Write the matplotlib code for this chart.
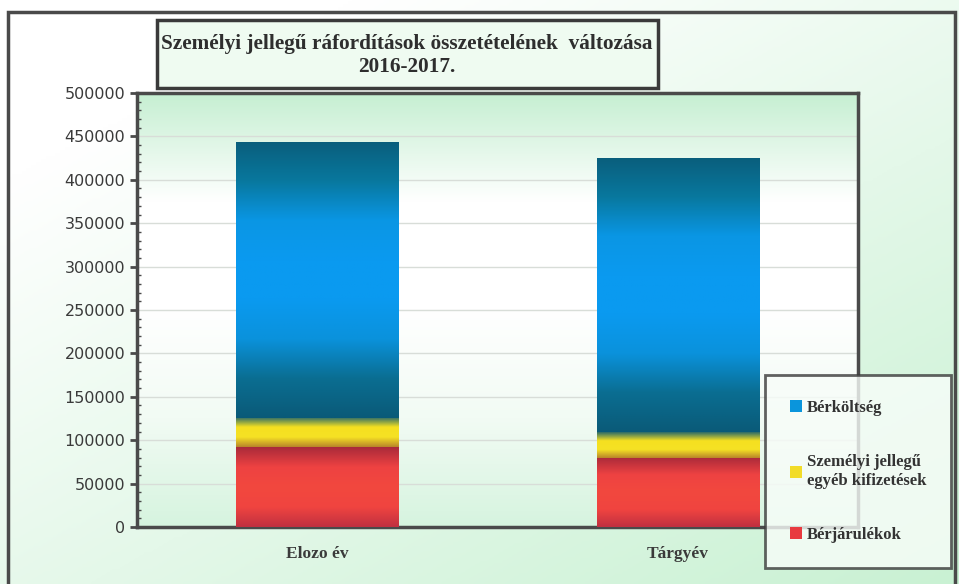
import numpy as np
import matplotlib.pyplot as plt
from matplotlib.patches import Rectangle
from matplotlib.colors import LinearSegmentedColormap

# data
categories = ["Elozo év", "Tárgyév"]
berjarulekok = [92000, 80000]
egyeb_kifizetesek = [34000, 29000]
berkoltseg = [318000, 316000]
series_labels = ["Bérköltség", "Személyi jellegű\negyéb kifizetések", "Bérjárulékok"]
yticks = [0, 50000, 100000, 150000, 200000, 250000, 300000, 350000, 400000, 450000, 500000]

title = "Személyi jellegű ráfordítások összetételének  változása\n2016-2017."

W, H = 959, 584
fig = plt.figure(figsize=(W / 100, H / 100), dpi=100)

# figure background: white top-left, light green bottom-right
bg = fig.add_axes([0, 0, 1, 1], zorder=-10)
gx, gy = np.meshgrid(np.linspace(0, 1, 200), np.linspace(0, 1, 200))
bgval = np.clip(0.55 * gx + 0.65 * gy - 0.2, 0, 1)
bgcmap = LinearSegmentedColormap.from_list("bg", ["#ffffff", "#c9f1d3"])
bg.imshow(bgval, cmap=bgcmap, extent=[0, 1, 0, 1], aspect="auto", origin="upper")
bg.set_axis_off()

# outer frame
fig.patches.append(Rectangle((8 / W, -0.02), (955 - 8) / W, 1 - 12 / H + 0.02,
                             transform=fig.transFigure, fill=False,
                             edgecolor="#4a4a4a", linewidth=2.5, zorder=1))

ax = fig.add_axes([137 / W, (H - 527) / H, (858 - 137) / W, (527 - 93) / H])
ax.set_zorder(1)

# plot area gradient (green at top, white in middle, pale green at bottom)
prof = np.linspace(0, 1, 256)[:, None]
areacmap = LinearSegmentedColormap.from_list(
    "area", ["#c6efd2", "#ffffff", "#ffffff", "#f2fbf4", "#d6f4df"])
ax.imshow(prof, cmap=areacmap, extent=[0, 1, 0, 1], transform=ax.transAxes,
          aspect="auto", origin="upper", zorder=0)

x = np.arange(len(categories))
width = 0.45
b1 = ax.bar(x, berjarulekok, width, color="#e83a3f", label=series_labels[2], zorder=3)
b2 = ax.bar(x, egyeb_kifizetesek, width, bottom=berjarulekok, color="#f2dc28",
            label=series_labels[1], zorder=3)
bottom2 = np.array(berjarulekok) + np.array(egyeb_kifizetesek)
b3 = ax.bar(x, berkoltseg, width, bottom=bottom2, color="#0a95dc",
            label=series_labels[0], zorder=3)

cm_red = LinearSegmentedColormap.from_list("r", ["#a92a3a", "#ee4242", "#f2483e", "#f04440", "#c03040"])
cm_yel = LinearSegmentedColormap.from_list("y", ["#2a6a6a", "#f5e020", "#f6e224", "#b8842a"])
cm_blu = LinearSegmentedColormap.from_list(
    "b", ["#0a5e7c", "#08789e", "#0a96e4", "#0a9af0", "#0a9af0", "#0a92dc",
          "#0a6e92", "#0a5a78"])

def gradient_fill(bars, cmap):
    for p in bars:
        x0, y0 = p.get_x(), p.get_y()
        w, h = p.get_width(), p.get_height()
        arr = np.linspace(0, 1, 256)[:, None] * np.ones((1, 64))
        im = ax.imshow(arr, cmap=cmap, extent=[x0, x0 + w, y0, y0 + h],
                       aspect="auto", origin="upper", zorder=3.5)
        im.set_clip_path(p)

gradient_fill(b1, cm_red)
gradient_fill(b2, cm_yel)
gradient_fill(b3, cm_blu)

ax.set_xlim(-0.5, 1.5)
ax.set_ylim(0, 500000)
ax.set_yticks(yticks)
ax.set_yticklabels([str(t) for t in yticks], fontsize=11.5, color="#3a3a3a",
                   family="DejaVu Sans")
ax.set_yticks(np.arange(0, 500001, 10000), minor=True)
ax.tick_params(axis="y", which="major", direction="out", length=5, width=2, color="#4a4a4a")
ax.tick_params(axis="y", which="minor", direction="in", length=3, width=1, color="#4a4a4a")
ax.set_xticks(x)
ax.set_xticklabels(categories, fontsize=12.5, fontweight="bold", family="Liberation Serif",
                   color="#3a3a3a")
ax.tick_params(axis="x", length=0, pad=14)
ax.grid(axis="y", color="#d8ddd8", linewidth=1, zorder=1)
ax.set_axisbelow(True)
for s in ax.spines.values():
    s.set_color("#4a4a4a")
    s.set_linewidth(2.5)

# title box
fig.patches.append(Rectangle((157 / W, 1 - 88 / H), (658 - 157) / W, (88 - 20) / H,
                             transform=fig.transFigure, facecolor="#effbf1",
                             edgecolor="#3a3a3a", linewidth=2.5, zorder=5))
fig.text(407 / W, 1 - 55 / H, title, ha="center", va="center", fontsize=15.3,
         fontweight="bold", family="Liberation Serif", color="#2e2e2e",
         linespacing=1.2, zorder=6)

handles = [b3, b2, b1]
leg = fig.legend(handles, series_labels, loc="upper left",
                 bbox_to_anchor=(765 / W, 1 - 375 / H), frameon=True, fancybox=False,
                 prop={"family": "Liberation Serif", "weight": "bold", "size": 12},
                 handlelength=0.7, handleheight=0.7, handletextpad=0.3,
                 labelspacing=2.3, borderpad=1.5, borderaxespad=0)
leg.get_frame().set_edgecolor("#3a3a3a")
leg.get_frame().set_linewidth(2)
leg.get_frame().set_facecolor("#f8fdf9")
leg.set_zorder(10)
for t in leg.get_texts():
    t.set_color("#333333")

fig.savefig("out.png", dpi=100)
